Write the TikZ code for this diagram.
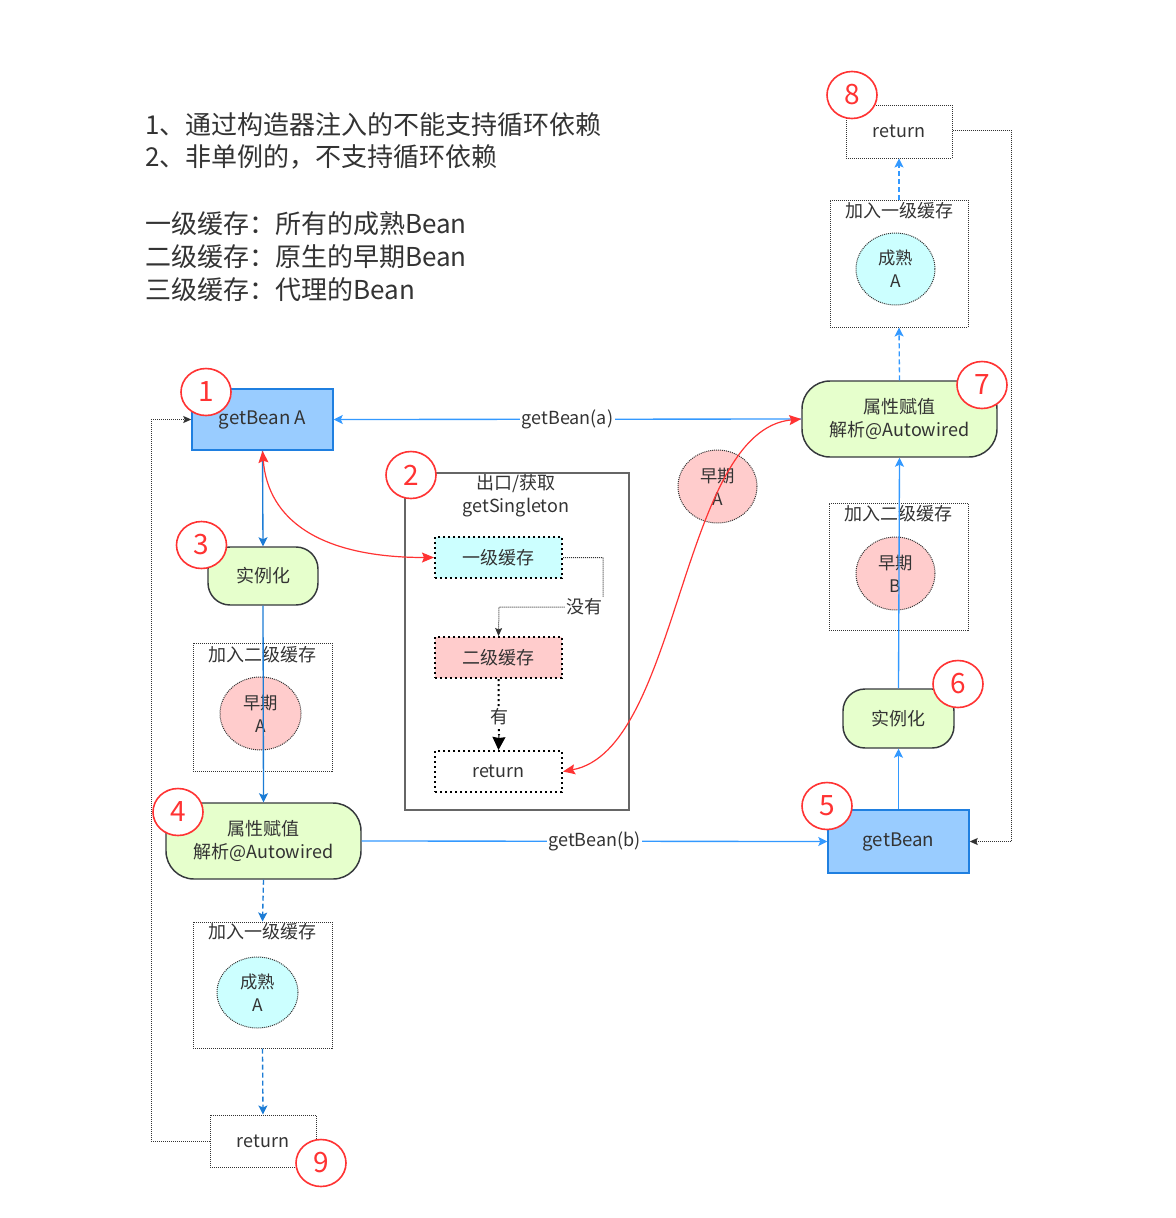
\documentclass[tikz,border=0pt]{standalone}
\usepackage{fontspec}
\setmainfont{Noto Sans CJK SC}
\usetikzlibrary{arrows.meta,shapes.geometric}
\newdimen\unitpx
\unitpx=0.75pt
\definecolor{txtgray}{HTML}{333333}
\definecolor{beanfill}{HTML}{99CCFF}
\definecolor{beanborder}{HTML}{1F7FE0}
\definecolor{greenfill}{HTML}{E6FFCC}
\definecolor{greenborder}{HTML}{36393D}
\definecolor{pinkfill}{HTML}{FFCCCC}
\definecolor{cyanfill}{HTML}{CCFFFF}
\definecolor{numred}{HTML}{FF3333}
\definecolor{flowblue}{HTML}{3399FF}
\definecolor{darkblue}{HTML}{1C7CD5}
\definecolor{framegray}{HTML}{666666}
\begin{document}
\begin{tikzpicture}[x=0.75pt,y=-0.75pt,
  sz/.style 2 args={minimum width=#1\unitpx, minimum height=#2\unitpx},
  base/.style={inner sep=0pt, text=txtgray, font=\fontsize{13.5}{17}\selectfont, align=center},
  note/.style={inner sep=0pt, text=txtgray, font=\fontsize{19.5}{24}\selectfont, anchor=base west},
  beanbox/.style={base, draw=beanborder, fill=beanfill, line width=1.1pt, font=\fontsize{14}{17}\selectfont},
  roundbox/.style={base, draw=greenborder, fill=greenfill, line width=1.1pt},
  cachebox/.style={draw=txtgray, dash pattern=on 0.75pt off 0.75pt, line width=0.75pt},
  blob/.style={base, ellipse, draw=txtgray, dash pattern=on 0.75pt off 0.75pt, line width=0.75pt, font=\fontsize{13}{17}\selectfont},
  stagebox/.style={base, draw=black, line width=1.5pt, dash pattern=on 1.5pt off 2.25pt, sz={127}{41}},
  retbox/.style={base, draw=txtgray, dash pattern=on 0.75pt off 0.75pt, line width=0.75pt, fill=white},
  numc/.style={ellipse, draw=numred, line width=1.2pt, fill=white, inner sep=0pt, sz={50}{47}, text=numred, font=\fontsize{21}{21}\selectfont},
  lbl/.style={base, fill=white, inner sep=1pt},
  barrow/.style={draw=flowblue, line width=1pt, -{Stealth[length=6.75pt, width=6.75pt, inset=1.5pt]}},
  dbarrow/.style={barrow, draw=darkblue},
  dasharrow/.style={barrow, draw=darkblue, dash pattern=on 3.75pt off 2.25pt},
  loop/.style={draw=txtgray, line width=0.75pt, dash pattern=on 0.75pt off 0.75pt, -{Stealth[length=6pt, width=5.25pt, inset=1.1pt]}},
  redcurve/.style={draw=numred, line width=0.9pt, {Stealth[length=9pt, width=7.5pt, inset=1.5pt]}-{Stealth[length=9pt, width=7.5pt, inset=1.5pt]}}
]
\fill[white] (0,0) rectangle (1176,1218);
\useasboundingbox (0,0) rectangle (1176,1218);

% notes at the top
\node[note] (note1) at (145,134) {1、通过构造器注入的不能支持循环依赖};
\node[note] (note2) at (145,166) {2、非单例的，不支持循环依赖};
\node[note] (note3) at (145,233) {一级缓存：所有的成熟Bean};
\node[note] (note4) at (145,266) {二级缓存：原生的早期Bean};
\node[note] (note5) at (145,299) {三级缓存：代理的Bean};

% left column: creating A
\node[beanbox, sz={141}{61}] (getA) at (262.5,419.5) {getBean A};
\node[roundbox, sz={110}{58}, rounded corners=16.5pt] (instA) at (263,576) {实例化};
\node[cachebox, sz={139}{128}] (cache2A) at (262.5,707) {};
\node[base] (cache2Atitle) at (262.5,655) {加入二级缓存};
\node[blob, fill=pinkfill, sz={81}{73}] (earlyA) at (260.5,713.5) {早期\\A};
\node[roundbox, sz={195}{76}, rounded corners=21pt] (propA) at (263.5,841) {属性赋值\\解析@Autowired};
\node[cachebox, sz={139}{126}] (cache1A) at (262.5,985) {};
\node[base] (cache1Atitle) at (262.5,932) {加入一级缓存};
\node[blob, fill=cyanfill, sz={81}{71}] (matureA) at (257.5,992.5) {成熟\\A};
\node[retbox, sz={106}{52}] (retA) at (263,1141) {return};

% getSingleton lookup
\node[draw=framegray, line width=1.1pt, sz={224}{337}, inner sep=0pt] (single) at (517,641.5) {};
\node[base] (singletitle) at (516,496) {出口/获取\\getSingleton};
\node[stagebox, fill=cyanfill] (lvl1) at (498.5,557.5) {一级缓存};
\node[stagebox, fill=pinkfill] (lvl2) at (498.5,657.5) {二级缓存};
\node[stagebox, fill=white] (lvlret) at (498.5,771.5) {return};
\coordinate (missR) at (603,557.5);
\coordinate (missC) at (603,607);
\coordinate (missL) at (499,607);
\coordinate (hitmid) at (499,735);

% right column: creating B
\node[beanbox, sz={141}{63}] (getB) at (898.5,841.5) {getBean};
\node[roundbox, sz={111}{59}, rounded corners=16.5pt] (instB) at (898.5,718.5) {实例化};
\node[cachebox, sz={139}{127}] (cache2B) at (898.5,566.5) {};
\node[base] (cache2Btitle) at (898.5,514) {加入二级缓存};
\node[blob, fill=pinkfill, sz={79}{73}] (earlyB) at (895.5,573.5) {早期\\B};
\node[roundbox, sz={195}{76}, rounded corners=21pt] (propB) at (899.5,419) {属性赋值\\解析@Autowired};
\node[cachebox, sz={138}{127}] (cache1B) at (899,263.5) {};
\node[base] (cache1Btitle) at (899,211) {加入一级缓存};
\node[blob, fill=cyanfill, sz={79}{72}] (matureB) at (895.5,269) {成熟\\A};
\node[retbox, sz={106}{53}] (retB) at (899,131.5) {return};

% early A handed over from the second-level cache
\node[blob, fill=pinkfill, sz={79}{73}] (earlyAmid) at (717.5,486.5) {早期\\A};

% corners of the dotted return loops
\coordinate (loopA1) at (151,1141);
\coordinate (loopA2) at (151,419.5);
\coordinate (loopB1) at (1011,130);
\coordinate (loopB2) at (1011,841.5);

% connectors, left column
\draw[dbarrow] (getA.south) -- (instA.north);
\draw[dbarrow] (instA.south) -- (propA.north);
\draw[dasharrow] (propA.south) -- (cache1A.north);
\draw[dasharrow] (cache1A.south) -- (retA.north);
\draw[loop] (retA.west) -- (loopA1) -- (loopA2) -- (getA.west);

% connectors, right column
\draw[barrow] (getB.north) -- (instB.south);
\draw[barrow] (instB.north) -- (propB.south);
\draw[barrow, dash pattern=on 3.75pt off 2.25pt] (propB.north) -- (cache1B.south);
\draw[barrow, dash pattern=on 3.75pt off 2.25pt] (cache1B.north) -- (retB.south);
\draw[loop] (retB.east |- loopB1) -- (loopB1) -- (loopB2) -- (getB.east);

% cross calls
\draw[barrow] (propA.east) -- node[lbl, pos=0.5] (callB) {getBean(b)} (getB.west);
\draw[barrow] (propB.west) -- node[lbl, pos=0.5] (callA) {getBean(a)} (getA.east);

% lookup inside getSingleton
\draw[loop] (lvl1.east) -- (missR) -- (missC) -- node[lbl, pos=0.18] (miss) {没有} (missL) -- (lvl2.north);
\draw[draw=black, line width=1.5pt, dash pattern=on 1.5pt off 2.25pt] (lvl2.south) -- (hitmid);
\draw[draw=black, line width=0.75pt, -{Stealth[length=9.75pt, width=9.75pt, inset=0.75pt]}] (hitmid) -- (lvlret.north);
\node[lbl] (hit) at (499,717) {有};

% red lookups
\draw[redcurve] (getA.south) .. controls (268,520) and (320,557.5) .. (lvl1.west);
\draw[redcurve] (lvlret.east) .. controls (680,750) and (680,430) .. (propB.west);

% step numbers
\node[numc] (n1) at (206,392) {1};
\node[numc] (n2) at (411,475) {2};
\node[numc] (n3) at (201.5,545) {3};
\node[numc] (n4) at (178,812) {4};
\node[numc] (n5) at (827,806) {5};
\node[numc] (n6) at (958,684) {6};
\node[numc] (n7) at (982,385) {7};
\node[numc] (n8) at (852,95) {8};
\node[numc] (n9) at (321,1163) {9};
\end{tikzpicture}
\end{document}
